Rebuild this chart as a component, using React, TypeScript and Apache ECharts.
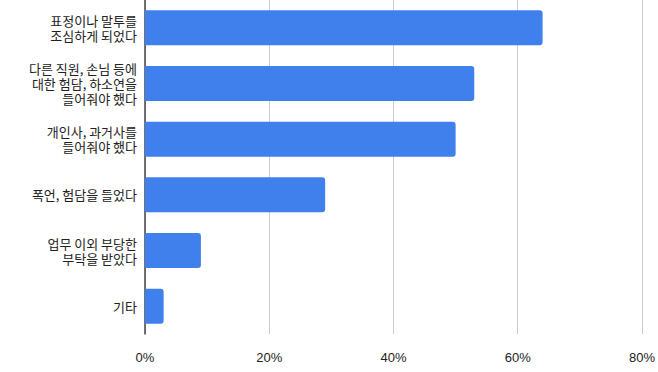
import React, { useEffect, useRef } from "react";
import * as echarts from "echarts";

const categories = [
  "표정이나 말투를\n조심하게 되었다",
  "다른 직원, 손님 등에\n대한 험담, 하소연을\n들어줘야 했다",
  "개인사, 과거사를\n들어줘야 했다",
  "폭언, 험담을 들었다",
  "업무 이외 부당한\n부탁을 받았다",
  "기타",
];
const values = [64, 53, 50, 29, 9, 3];
const xTicks = { min: 0, max: 80, interval: 20 };

export default function App() {
  const ref = useRef<HTMLDivElement>(null);
  useEffect(() => {
    if (!ref.current) return;
    const chart = echarts.init(ref.current, null, { renderer: "svg" });
    chart.setOption({
      animation: false,
      backgroundColor: "#ffffff",
      grid: { left: 145, right: 16, top: -2, bottom: 38, containLabel: false },
      xAxis: {
        type: "value",
        min: xTicks.min,
        max: xTicks.max,
        interval: xTicks.interval,
        axisLine: { show: false },
        axisTick: { show: false },
        splitLine: { show: true, lineStyle: { color: "#cccccc", width: 1 } },
        axisLabel: {
          formatter: "{value}%",
          color: "#222222",
          fontSize: 13,
          fontFamily: "Liberation Sans, Arial, sans-serif",
          margin: 17,
        },
      },
      yAxis: {
        type: "category",
        data: categories,
        inverse: true,
        axisLine: { show: true, lineStyle: { color: "#444444", width: 1.5 } },
        axisTick: { show: false },
        axisLabel: {
          color: "#222222",
          fontSize: 13,
          lineHeight: 15,
          margin: 8,
          align: "right",
          fontFamily: "Noto Sans CJK KR, sans-serif",
        },
      },
      series: [
        {
          type: "bar",
          data: values,
          barWidth: 35,
          itemStyle: { color: "#3f80ec", borderRadius: [0, 3, 3, 0] },
        },
      ],
    });
    return () => chart.dispose();
  }, []);
  return (
    <div
      ref={ref}
      style={{ position: "absolute", left: 0, top: 0, width: 658, height: 372 }}
    />
  );
}
